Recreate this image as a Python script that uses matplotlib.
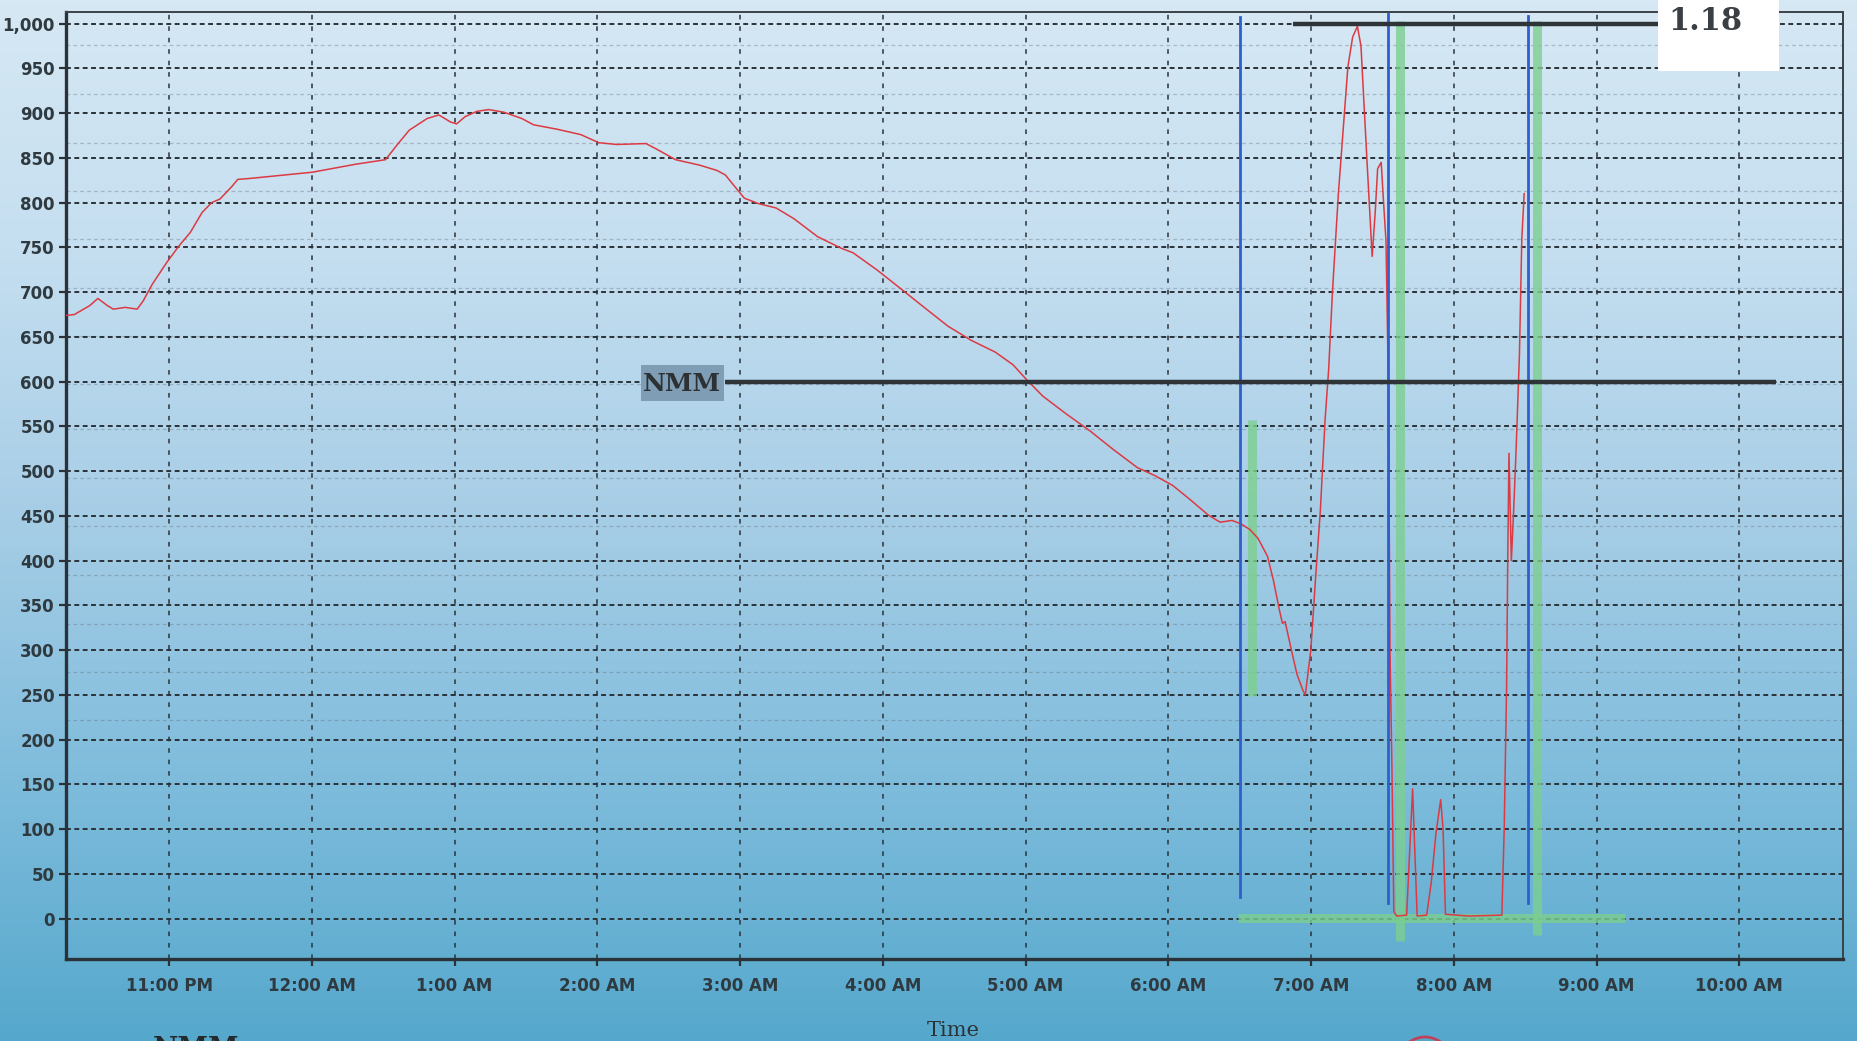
import numpy as np
import pandas as pd
import matplotlib
matplotlib.use("Agg")
import matplotlib.pyplot as plt
import matplotlib.dates as mdates
from matplotlib.ticker import MultipleLocator, FuncFormatter
from matplotlib.colors import LinearSegmentedColormap
from matplotlib.patches import Rectangle, Ellipse

start = pd.Timestamp("2020-01-01 22:00")

# red trace: minutes after 10:00 PM and reading
trace_min = [16.7, 20.2, 26.7, 30.1, 34.1, 36.6, 41.6, 46.6, 49.1, 53.0, 59.0, 64.0,
             69.0, 73.9, 77.9, 81.4, 86.4, 88.9, 93.8, 120.2, 138.6, 151.0, 156.0,
             161.0, 168.5, 173.4, 178.4, 180.9, 184.4, 189.4, 194.3, 200.8, 208.3,
             213.2, 223.2, 233.1, 240.6, 248.1, 260.5, 265.5, 272.9, 282.9, 290.3,
             293.8, 297.8, 301.8, 307.7, 315.2, 322.7, 332.6, 342.6, 347.5, 357.5,
             367.5, 377.4, 387.4, 397.3, 407.3, 414.7, 420.2, 427.2, 437.1, 447.1,
             457.0, 467.0, 474.4, 481.9, 489.3, 496.8, 501.8, 506.8, 510.7, 514.2,
             517.7, 521.7, 524.2, 526.7, 528.0, 529.1, 531.6, 534.1, 536.6, 537.6,
             539.9, 541.9, 543.9, 545.9, 547.4, 549.0, 551.5, 555.5, 557.5, 559.5,
             561.0, 563.5, 565.7, 567.0, 568.0, 569.5, 570.5, 571.5, 572.5, 573.2,
             574.0, 574.8, 576.0, 580.2, 582.7, 584.6, 588.6, 590.5, 592.5, 594.5,
             595.5, 596.5, 601.3, 606.2, 620.2, 621.2, 622.2, 622.7, 623.2, 624.2,
             625.2, 626.2, 627.6, 628.6, 629.6]
trace_val = [674, 675, 685, 693, 685, 681, 683, 681, 690, 709, 733, 751,
             767, 789, 800, 804, 818, 826, 827, 834, 843, 848, 865,
             881, 894, 898, 890, 888, 896, 902, 904, 901, 894,
             887, 882, 876, 867, 865, 866, 859, 848, 842, 836,
             831, 818, 805, 799, 794, 782, 762, 749, 744, 725,
             704, 683, 662, 646, 633, 619, 603, 584, 564, 545,
             524, 504, 495, 484, 468, 451, 443, 445, 441, 435,
             425, 405, 378, 345, 330, 332, 302, 273, 255, 250,
             300, 380, 455, 557, 613, 700, 810, 952, 985, 997,
             975, 848, 740, 790, 838, 845, 800, 758, 600, 300,
             170, 8, 3, 4, 145, 3, 4, 40, 95, 133,
             100, 5, 4, 3, 4, 100, 259, 405, 520, 400,
             458, 524, 630, 760, 810]

nmm_level = 600
nmm_span = (293.8, 735.6)
top_level = 1000
top_span = (532.6, 685.8)
blue_min = [510.0, 572.4, 631.0]
blue_lo = [24, 18, 18]
blue_hi = [1007, 1011, 1008]
green_min = [515.2, 577.4, 635.1]
green_lo = [249, -25, -18]
green_hi = [557, 1003, 1003]
green_base = 1
green_base_span = (509.2, 672.0)
ghost_grid = [976, 921, 867, 813, 759, 705, 651, 597, 547, 492, 439, 384, 329, 276, 222]
x_range = (16.7, 763.6)
y_range = (-45, 1013)


def t(m):
    return mdates.date2num(start + pd.to_timedelta(np.asarray(m), unit="min"))


W, H = 1857, 1041
fig = plt.figure(figsize=(W / 100, H / 100), dpi=100)

# scanned-paper background gradient
bg = fig.add_axes([0, 0, 1, 1], zorder=-10)
cmap = LinearSegmentedColormap.from_list("scan", [
    (0.0, "#d6e8f4"), (0.25, "#c4def0"), (0.5, "#a6cde6"),
    (0.75, "#7fbcdc"), (1.0, "#55a8cc")])
bg.imshow(np.linspace(0, 1, 256).reshape(-1, 1), cmap=cmap, aspect="auto",
          extent=[0, 1, 0, 1], origin="upper")
bg.set_axis_off()

ax = fig.add_axes([66 / W, 1 - 959 / H, (1843 - 66) / W, (959 - 12) / H])
ax.set_facecolor("none")
ax.set_axisbelow(True)

ink = "#2a3238"
ax.yaxis.grid(True, ls=(0, (2.5, 1.8)), color=ink, lw=1.4)
ax.xaxis.grid(True, ls=(0, (3, 4.5)), color=ink, lw=1.1)
for g in ghost_grid:
    ax.axhline(g, ls=(0, (3, 2.5)), color="#5a6670", lw=0.9, alpha=0.35, zorder=0.5)

# green markers
green = "#7ccf90"
for m, lo, hi in zip(green_min, green_lo, green_hi):
    ax.plot(t([m, m]), [lo, hi], color=green, lw=6.5, alpha=0.8,
            solid_capstyle="butt", zorder=2)
ax.plot(t(green_base_span), [green_base, green_base], color=green, lw=6.5,
        alpha=0.8, solid_capstyle="butt", zorder=2)

# recorded trace
ax.plot(t(trace_min), trace_val, color="#dc3a42", lw=1.1, zorder=3)

# blue markers
for m, lo, hi in zip(blue_min, blue_lo, blue_hi):
    ax.plot(t([m, m]), [lo, hi], color="#2f5fcf", lw=2.0, zorder=4)

# black reference lines
ax.plot(t(nmm_span), [nmm_level, nmm_level], color="#2e3438", lw=3.2, zorder=5,
        solid_capstyle="butt")
ax.plot(t(top_span), [top_level, top_level], color="#2e3438", lw=3.2, zorder=5,
        solid_capstyle="butt")

ax.set_xlim(t(x_range))
ax.set_ylim(*y_range)

ax.xaxis.set_major_locator(mdates.HourLocator(interval=1))
ax.xaxis.set_major_formatter(mdates.DateFormatter("%-I:%M %p"))
ax.yaxis.set_major_locator(MultipleLocator(50))
ax.yaxis.set_major_formatter(FuncFormatter(lambda v, p: f"{int(v):,}" if v >= 0 else ""))

tick_font = dict(family=["Liberation Sans Narrow", "DejaVu Sans Condensed", "DejaVu Sans"],
                 weight="bold", size=12)
ax.tick_params(axis="both", direction="out", length=5, width=1.6, color=ink,
               labelcolor="#2f3a40", pad=3)
for lab in ax.get_xticklabels() + ax.get_yticklabels():
    lab.set_fontproperties(tick_font)
ax.tick_params(axis="x", pad=8)

for side in ["left", "bottom"]:
    ax.spines[side].set_linewidth(2.4)
    ax.spines[side].set_color(ink)
for side in ["top", "right"]:
    ax.spines[side].set_linewidth(1.4)
    ax.spines[side].set_color("#3a4248")

# NMM label box
fig.patches.append(Rectangle((641 / W, 1 - 401 / H), 83 / W, 36 / H,
                             transform=fig.transFigure, facecolor="#7f9db4",
                             edgecolor="none", zorder=6))
fig.text(682 / W, 1 - 384 / H, "NMM", family="DejaVu Serif", weight="bold",
         size=18, color="#2c3135", ha="center", va="center", zorder=7)

# white value box
fig.patches.append(Rectangle((1658 / W, 1 - 71 / H), 121 / W, 71 / H,
                             transform=fig.transFigure, facecolor="white",
                             edgecolor="none", zorder=6))
fig.text(1705 / W, 1 - 22 / H, "1.18", family="DejaVu Serif", weight="bold",
         size=22, color="#3a3f44", ha="center", va="center", zorder=7)

fig.text(953 / W, 1 - 1031 / H, "Time", family="DejaVu Serif", size=15,
         color="#2c3338", ha="center", va="center")
fig.text(196 / W, 1 - 1036 / H, "NMM", family="DejaVu Serif", weight="bold",
         size=20, color="#24292d", ha="center", va="top")
fig.patches.append(Ellipse((1425 / W, 1 - 1085 / H), 70 / W, 96 / H,
                           transform=fig.transFigure, facecolor="none",
                           edgecolor="#c0415a", lw=2))

fig.savefig("out.png", dpi=100)
